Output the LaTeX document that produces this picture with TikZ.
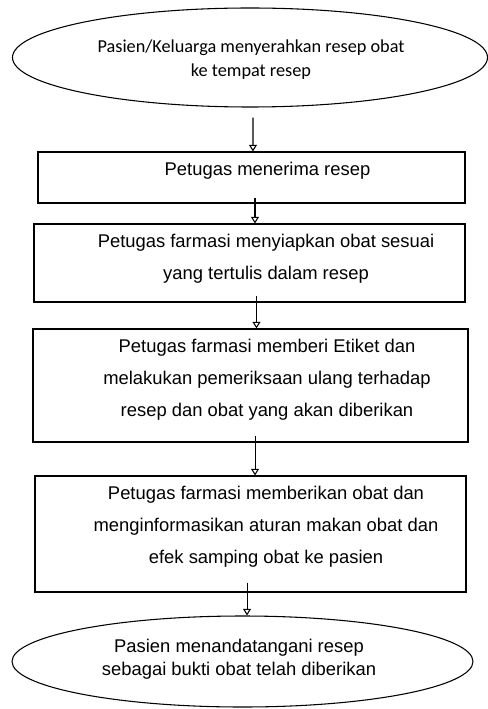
\documentclass[tikz,border=0pt]{standalone}
\usepackage{fontspec}
\setmainfont{Liberation Sans}
\newfontfamily\calibri{Carlito}
\usetikzlibrary{shapes.geometric,arrows.meta}

\begin{document}
\begin{tikzpicture}[x=0.75pt,y=-0.75pt]

%
% Styles
%
\tikzstyle{stepbox} = [rectangle,draw,line width=0.8pt,inner sep=0pt]
\tikzstyle{ends} = [ellipse,draw,line width=0.8pt,inner sep=0pt]
\tikzstyle{txt} = [align=center,inner sep=0pt,font=\fontsize{13.8}{24}\selectfont]
\tikzstyle{flow} = [line width=0.8pt,-{Triangle[open,length=5pt,width=6pt]}]

\useasboundingbox (0,0) rectangle (488,709);

\node[ends,minimum width=356.25pt,minimum height=74.25pt] (start) at (250,57.5) {};
\node[stepbox,minimum width=320.25pt,minimum height=38.25pt] (box1) at (251.5,177.5) {};
\node[stepbox,minimum width=323.25pt,minimum height=58.5pt] (box2) at (249.5,263) {};
\node[stepbox,minimum width=326.25pt,minimum height=84.75pt] (box3) at (250.5,385.5) {};
\node[stepbox,minimum width=323.25pt,minimum height=87pt] (box4) at (250.5,534) {};
\node[ends,minimum width=345.75pt,minimum height=68.25pt] (finish) at (242.5,661.5) {};

\node[txt,font=\calibri\fontsize{13.7}{18}\selectfont] (t0) at (251,60)
  {Pasien/Keluarga menyerahkan resep obat\\ke tempat resep};
\node[txt] (t1) at (267.5,171) {Petugas menerima resep};
\node[txt] (t2) at (266,259)
  {Petugas farmasi menyiapkan obat sesuai\\yang tertulis dalam resep};
\node[txt] (t3) at (267,380)
  {Petugas farmasi memberi Etiket dan\\melakukan pemeriksaan ulang terhadap\\resep dan obat yang akan diberikan};
\node[txt] (t4) at (266,526.5)
  {Petugas farmasi memberikan obat dan\\menginformasikan aturan makan obat dan\\efek samping obat ke pasien};
\node[txt,font=\fontsize{13.8}{17.25}\selectfont] (t5) at (239,659.5)
  {Pasien menandatangani resep\\sebagai bukti obat telah diberikan};

\draw[flow] ([xshift=2.25pt,yshift=-7.5pt]start.south) -- ([xshift=1.1pt]box1.north);
\draw[flow] ([xshift=2.6pt,yshift=4.5pt]box1.south) -- ([xshift=4.1pt]box2.north);
\draw[flow] ([xshift=5.25pt,yshift=5.25pt]box2.south) -- ([xshift=4.5pt]box3.north);
\draw[flow] ([xshift=3.4pt,yshift=5.25pt]box3.south) -- ([xshift=3.4pt]box4.north);
\draw[flow] ([xshift=-2.6pt,yshift=7.5pt]box4.south) -- ([xshift=3.4pt]finish.north);

\end{tikzpicture}
\end{document}
